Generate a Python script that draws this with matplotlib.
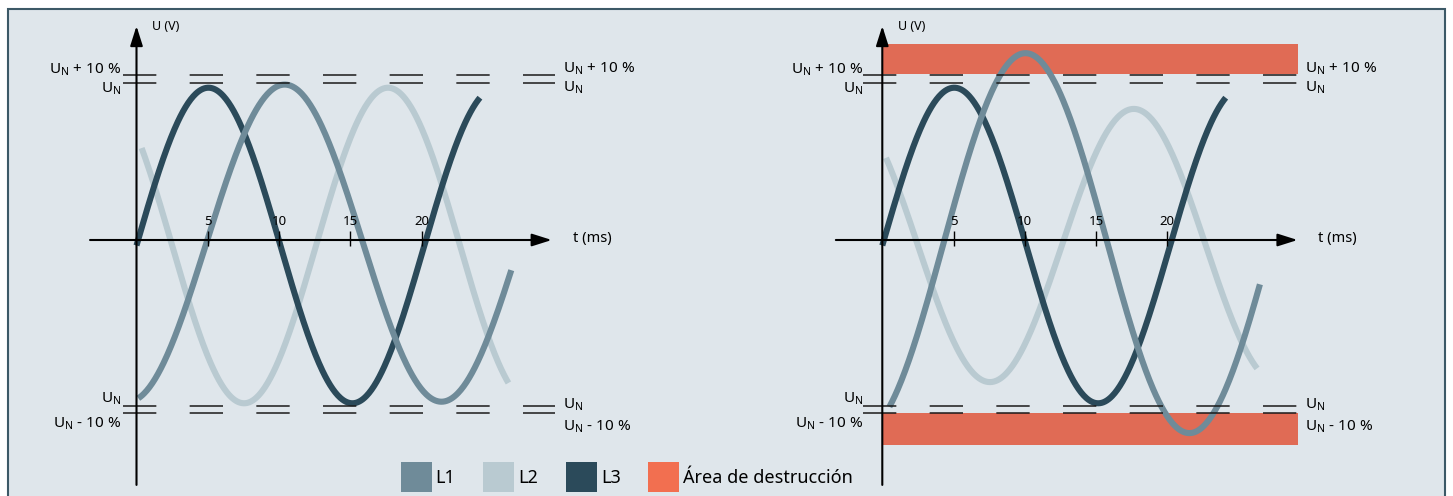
import matplotlib
matplotlib.use('Agg')
import matplotlib.pyplot as plt
import numpy as np
from matplotlib.patches import Rectangle, Patch

# Configuration
W, H, DPI = 1453, 496, 100
BG = '#dfe6eb'
FRAME = '#3c5967'
PX_PER_MS = 14.25
PX_PER_UN = 157.0
AXIS_Y_PX = 240

plt.rcParams['font.family'] = ['Noto Sans', 'DejaVu Sans']
plt.rcParams['mathtext.fontset'] = 'custom'
plt.rcParams['mathtext.rm'] = 'Noto Sans'
plt.rcParams['lines.scale_dashes'] = False

# Phases
PHASES = ['L1', 'L2', 'L3']
PHASE_COLORS = ['#6f8b99', '#b9cad1', '#2b4a5a']
PHASE_ZORDER = [4, 2, 3]
DESTRUCTION_LABEL = 'Área de destrucción'
DESTRUCTION_COLOR = '#f26f50'
BAND_COLOR = '#e06b55'

# time axis (ms)
TICKS = [5, 10, 15, 20]

# voltage levels, in units of U_N
UN_LEVELS = [1.0, -1.057]
TOL_LEVELS = [1.054, -1.104]

# left panel: normal operation (amplitude, offset, period ms, rising zero ms, start/end ms)
LEFT_AMP = [1.01, 1.005, 1.005]
LEFT_OFFSET = [-0.02, -0.035, -0.035]
LEFT_PERIOD = [22.0, 20.2, 20.2]
LEFT_ZERO = [4.9, 12.6, 0.0]
LEFT_START = [0.13, 0.36, 0.0]
LEFT_END = [26.3, 26.1, 24.1]

# right panel: over-voltage on L1
RIGHT_AMP = [1.21, 0.87, 1.005]
RIGHT_OFFSET = [-0.02, -0.035, -0.035]
RIGHT_PERIOD = [23.0, 20.2, 20.2]
RIGHT_ZERO = [4.3, 12.6, 0.0]
RIGHT_START = [0.5, 0.26, 0.0]
RIGHT_END = [26.5, 26.3, 24.1]

# destruction area (right panel)
BAND_LOW = [1.055, -1.306]
BAND_HIGH = [1.248, -1.104]
BAND_SPAN = [0.0, 29.17]


def lbl(sign):
    return 'U$_{\\mathrm{N}}$ ' + sign + ' 10 %'


UN = 'U$_{\\mathrm{N}}$'


def draw_panel(ax, origin_px, amps, offsets, periods, zeros, starts, ends,
               level_span, left_t, right_t, bands=False):
    ax.set_xlim(-origin_px / PX_PER_MS, (W - origin_px) / PX_PER_MS)
    ax.set_ylim((AXIS_Y_PX - H) / PX_PER_UN, AXIS_Y_PX / PX_PER_UN)
    ax.axis('off')

    if bands:
        for lo, hi in zip(BAND_LOW, BAND_HIGH):
            ax.fill_between(BAND_SPAN, lo, hi, color=BAND_COLOR, lw=0, zorder=1)

    for i in range(3):
        t = np.linspace(starts[i], ends[i], 400)
        v = amps[i] * np.sin(2 * np.pi * (t - zeros[i]) / periods[i]) + offsets[i]
        ax.plot(t, v, color=PHASE_COLORS[i], lw=4.4, solid_capstyle='butt',
                zorder=PHASE_ZORDER[i])

    for lev in UN_LEVELS + TOL_LEVELS:
        ax.hlines(lev, level_span[0], level_span[1], colors='#1a1a1a', lw=1.1,
                  linestyles=(0, (24, 24)), zorder=5)

    # axes with arrows
    arrow = dict(arrowstyle='-|>,head_length=1.2,head_width=0.38', color='black',
                 lw=1.5, shrinkA=0, shrinkB=0, mutation_scale=10)
    ax.annotate('', xy=(0, 1.363), xytext=(0, -1.56), arrowprops=arrow, zorder=6)
    ax.annotate('', xy=(29.14, 0), xytext=(-3.26, 0), arrowprops=arrow, zorder=6)
    ax.vlines(TICKS, -0.038, 0.057, colors='black', lw=1.0, zorder=6)
    for tk in TICKS:
        ax.text(tk, 0.115, str(tk), ha='center', va='center', fontsize=9.5, zorder=7)
    ax.text(1.1, 1.36, 'U (V)', ha='left', va='center', fontsize=9)
    ax.text(30.6, 0.01, 't (ms)', ha='left', va='center', fontsize=10.5)

    fs = 11
    ax.text(left_t, 1.062, lbl('+'), ha='right', va='baseline', fontsize=fs)
    ax.text(left_t, 0.94, UN, ha='right', va='baseline', fontsize=fs)
    ax.text(left_t, -1.036, UN, ha='right', va='baseline', fontsize=fs)
    ax.text(left_t, -1.19, lbl('-'), ha='right', va='baseline', fontsize=fs)
    ax.text(right_t, 1.07, lbl('+'), ha='left', va='baseline', fontsize=fs)
    ax.text(right_t, 0.945, UN, ha='left', va='baseline', fontsize=fs)
    ax.text(right_t, -1.072, UN, ha='left', va='baseline', fontsize=fs)
    ax.text(right_t, -1.215, lbl('-'), ha='left', va='baseline', fontsize=fs)


fig = plt.figure(figsize=(W / DPI, H / DPI), dpi=DPI, facecolor='white')
fig.patches.append(Rectangle((8 / W, -0.02), (1445 - 8) / W, (H - 9) / H + 0.02,
                             transform=fig.transFigure, facecolor=BG,
                             edgecolor=FRAME, lw=1.5, zorder=-10))

ax1 = fig.add_axes([0, 0, 1, 1])
ax1.patch.set_alpha(0)
draw_panel(ax1, 136.5, LEFT_AMP, LEFT_OFFSET, LEFT_PERIOD, LEFT_ZERO,
           LEFT_START, LEFT_END, [-0.95, 29.4], -1.09, 29.93)

ax2 = fig.add_axes([0, 0, 1, 1])
ax2.patch.set_alpha(0)
draw_panel(ax2, 882.3, RIGHT_AMP, RIGHT_OFFSET, RIGHT_PERIOD, RIGHT_ZERO,
           RIGHT_START, RIGHT_END, [-1.35, 29.17], -1.35, 29.66, bands=True)

handles = [Patch(facecolor=c, edgecolor='none') for c in PHASE_COLORS]
handles.append(Patch(facecolor=DESTRUCTION_COLOR, edgecolor='none'))
fig.legend(handles, PHASES + [DESTRUCTION_LABEL], loc='center',
           bbox_to_anchor=(627 / W, 1 - 477 / H), ncol=4, frameon=False,
           fontsize=13, handlelength=1.715, handleheight=2.18,
           handletextpad=0.22, columnspacing=1.54, borderpad=0, borderaxespad=0)

fig.savefig('out.png', dpi=DPI)
